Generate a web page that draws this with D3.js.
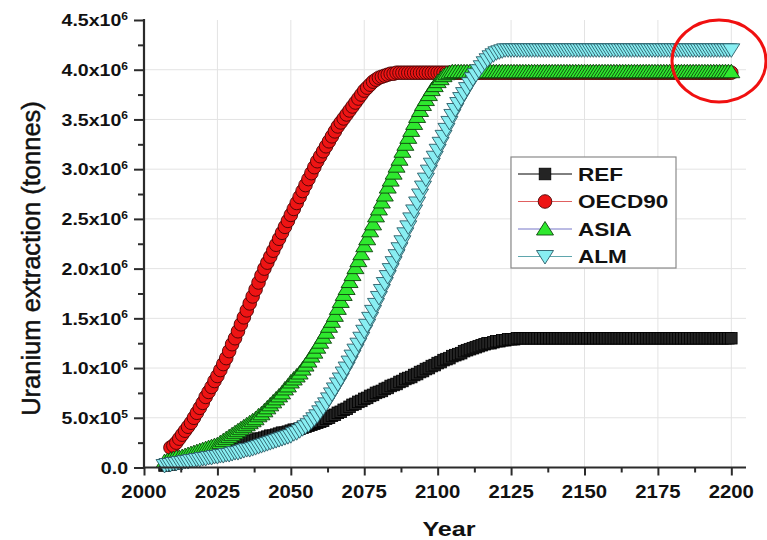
<!DOCTYPE html>
<html>
<head>
<meta charset="utf-8">
<script src="https://cdn.jsdelivr.net/npm/d3@7"></script>
<style>
  body { margin: 0; background: #fff; }
  svg { display: block; }
  text { font-family: "Liberation Sans", Arial, Helvetica, sans-serif; fill: #111; }
</style>
</head>
<body>
<svg id="chart" width="767" height="540"></svg>
<script>
// Uranium extraction by region, one value per year (millions of tonnes)
const FIRST_YEAR = 2007;

const refValues = [
  0.02,0.03,0.03,0.04,0.05,0.06,0.07,0.07,0.08,0.09,
  0.10,0.10,0.11,0.12,0.13,0.14,0.14,0.15,0.16,0.17,
  0.18,0.19,0.20,0.21,0.22,0.23,0.24,0.25,0.25,0.26,
  0.27,0.28,0.29,0.29,0.30,0.31,0.32,0.32,0.33,0.34,
  0.35,0.35,0.36,0.37,0.38,0.38,0.39,0.40,0.41,0.42,
  0.43,0.44,0.45,0.46,0.47,0.49,0.50,0.52,0.53,0.55,
  0.56,0.58,0.59,0.61,0.63,0.64,0.66,0.67,0.69,0.70,
  0.72,0.73,0.75,0.76,0.77,0.79,0.80,0.82,0.83,0.84,
  0.86,0.87,0.89,0.90,0.91,0.93,0.94,0.96,0.97,0.99,
  1.00,1.02,1.03,1.05,1.06,1.08,1.09,1.10,1.12,1.13,
  1.14,1.15,1.17,1.18,1.19,1.20,1.21,1.22,1.23,1.24,
  1.25,1.25,1.26,1.27,1.27,1.28,1.28,1.29,1.29,1.29,
  1.30,1.30,1.30,1.30,1.30,1.30,1.30,1.30,1.30,1.30,
  1.30,1.30,1.30,1.30,1.30,1.30,1.30,1.30,1.30,1.30,
  1.30,1.30,1.30,1.30,1.30,1.30,1.30,1.30,1.30,1.30,
  1.30,1.30,1.30,1.30,1.30,1.30,1.30,1.30,1.30,1.30,
  1.30,1.30,1.30,1.30,1.30,1.30,1.30,1.30,1.30,1.30,
  1.30,1.30,1.30,1.30,1.30,1.30,1.30,1.30,1.30,1.30,
  1.30,1.30,1.30,1.30,1.30,1.30,1.30,1.30,1.30,1.30,
  1.30,1.30,1.30,1.30
];

const oecd90Values = [
  null,null,0.20,0.22,0.25,0.29,0.33,0.37,0.41,0.45,
  0.50,0.55,0.60,0.65,0.71,0.76,0.81,0.87,0.92,0.98,
  1.04,1.10,1.17,1.24,1.30,1.37,1.44,1.51,1.58,1.65,
  1.72,1.79,1.86,1.93,2.00,2.06,2.12,2.18,2.24,2.30,
  2.36,2.42,2.48,2.54,2.60,2.66,2.72,2.78,2.84,2.90,
  2.96,3.02,3.08,3.13,3.18,3.23,3.28,3.33,3.38,3.43,
  3.47,3.51,3.55,3.59,3.63,3.67,3.71,3.75,3.79,3.82,
  3.85,3.88,3.90,3.92,3.93,3.94,3.95,3.96,3.96,3.97,
  3.97,3.97,3.97,3.97,3.97,3.97,3.97,3.97,3.97,3.97,
  3.97,3.97,3.97,3.97,3.97,3.97,3.97,3.97,3.97,3.97,
  3.97,3.97,3.97,3.97,3.97,3.97,3.97,3.97,3.97,3.97,
  3.97,3.97,3.97,3.97,3.97,3.97,3.97,3.97,3.97,3.97,
  3.97,3.97,3.97,3.97,3.97,3.97,3.97,3.97,3.97,3.97,
  3.97,3.97,3.97,3.97,3.97,3.97,3.97,3.97,3.97,3.97,
  3.97,3.97,3.97,3.97,3.97,3.97,3.97,3.97,3.97,3.97,
  3.97,3.97,3.97,3.97,3.97,3.97,3.97,3.97,3.97,3.97,
  3.97,3.97,3.97,3.97,3.97,3.97,3.97,3.97,3.97,3.97,
  3.97,3.97,3.97,3.97,3.97,3.97,3.97,3.97,3.97,3.97,
  3.97,3.97,3.97,3.97,3.97,3.97,3.97,3.97,3.97,3.97,
  3.97,3.97,3.97,3.97
];

const asiaValues = [
  0.06,0.07,0.08,0.09,0.10,0.10,0.11,0.12,0.13,0.14,
  0.15,0.16,0.17,0.18,0.19,0.20,0.21,0.22,0.23,0.25,
  0.27,0.29,0.31,0.33,0.35,0.37,0.39,0.41,0.43,0.45,
  0.47,0.49,0.52,0.54,0.57,0.60,0.63,0.66,0.69,0.72,
  0.75,0.79,0.82,0.86,0.89,0.92,0.95,0.99,1.03,1.07,
  1.12,1.16,1.21,1.26,1.31,1.36,1.42,1.47,1.53,1.60,
  1.67,1.74,1.80,1.87,1.94,2.01,2.08,2.15,2.23,2.30,
  2.38,2.45,2.53,2.60,2.67,2.74,2.82,2.89,2.96,3.03,
  3.10,3.18,3.25,3.32,3.39,3.46,3.53,3.59,3.65,3.70,
  3.75,3.80,3.84,3.88,3.91,3.94,3.96,3.97,3.98,3.98,
  3.98,3.98,3.98,3.98,3.98,3.98,3.98,3.98,3.98,3.98,
  3.98,3.98,3.98,3.98,3.98,3.98,3.98,3.98,3.98,3.98,
  3.98,3.98,3.98,3.98,3.98,3.98,3.98,3.98,3.98,3.98,
  3.98,3.98,3.98,3.98,3.98,3.98,3.98,3.98,3.98,3.98,
  3.98,3.98,3.98,3.98,3.98,3.98,3.98,3.98,3.98,3.98,
  3.98,3.98,3.98,3.98,3.98,3.98,3.98,3.98,3.98,3.98,
  3.98,3.98,3.98,3.98,3.98,3.98,3.98,3.98,3.98,3.98,
  3.98,3.98,3.98,3.98,3.98,3.98,3.98,3.98,3.98,3.98,
  3.98,3.98,3.98,3.98,3.98,3.98,3.98,3.98,3.98,3.98,
  3.98,3.98,3.98,3.98
];

const almValues = [
  0.02,0.03,0.03,0.04,0.04,0.05,0.05,0.06,0.06,0.07,
  0.07,0.08,0.08,0.09,0.09,0.10,0.10,0.11,0.11,0.12,
  0.12,0.13,0.13,0.14,0.15,0.15,0.16,0.17,0.18,0.18,
  0.19,0.20,0.21,0.22,0.23,0.24,0.25,0.26,0.27,0.28,
  0.29,0.30,0.31,0.32,0.34,0.35,0.37,0.39,0.41,0.43,
  0.46,0.49,0.52,0.56,0.60,0.64,0.69,0.74,0.79,0.84,
  0.89,0.95,1.00,1.06,1.12,1.18,1.24,1.30,1.37,1.43,
  1.50,1.57,1.64,1.71,1.78,1.85,1.92,1.99,2.06,2.13,
  2.20,2.27,2.35,2.42,2.50,2.58,2.66,2.74,2.82,2.90,
  2.98,3.05,3.12,3.19,3.26,3.33,3.40,3.47,3.54,3.60,
  3.66,3.71,3.76,3.81,3.86,3.91,3.95,3.99,4.03,4.07,
  4.10,4.13,4.15,4.17,4.18,4.19,4.20,4.20,4.20,4.20,
  4.20,4.20,4.20,4.20,4.20,4.20,4.20,4.20,4.20,4.20,
  4.20,4.20,4.20,4.20,4.20,4.20,4.20,4.20,4.20,4.20,
  4.20,4.20,4.20,4.20,4.20,4.20,4.20,4.20,4.20,4.20,
  4.20,4.20,4.20,4.20,4.20,4.20,4.20,4.20,4.20,4.20,
  4.20,4.20,4.20,4.20,4.20,4.20,4.20,4.20,4.20,4.20,
  4.20,4.20,4.20,4.20,4.20,4.20,4.20,4.20,4.20,4.20,
  4.20,4.20,4.20,4.20,4.20,4.20,4.20,4.20,4.20,4.20,
  4.20,4.20,4.20,4.20
];

const seriesNames = ["REF", "OECD90", "ASIA", "ALM"];

const xTickValues = [2000, 2025, 2050, 2075, 2100, 2125, 2150, 2175, 2200];
const yTickValues = [0, 0.5, 1.0, 1.5, 2.0, 2.5, 3.0, 3.5, 4.0, 4.5];
const yTickMantissas = ["0.0", "5.0x10", "1.0x10", "1.5x10", "2.0x10", "2.5x10", "3.0x10", "3.5x10", "4.0x10", "4.5x10"];
const yTickExponents = ["", "5", "6", "6", "6", "6", "6", "6", "6", "6"];

// ---- drawing ----
const svg = d3.select("#chart");

const x = d3.scaleLinear().domain([2000, 2205]).range([144, 746]);
const y = d3.scaleLinear().domain([0, 4.5]).range([467.5, 20]);

const styles = {
  REF:    { fill: "#242424", stroke: "#000000", line: "#000000", shape: "square" },
  OECD90: { fill: "#ee1414", stroke: "#4a0505", line: "#e06060", shape: "circle" },
  ASIA:   { fill: "#2ee82e", stroke: "#0d430d", line: "#7777c8", shape: "up" },
  ALM:    { fill: "#88eef2", stroke: "#2a5c68", line: "#5fa6ad", shape: "down" }
};

const seriesData = [refValues, oecd90Values, asiaValues, almValues].map((vals, i) => ({
  name: seriesNames[i],
  points: vals.map((v, j) => ({ year: FIRST_YEAR + j, value: v })).filter(d => d.value !== null)
}));

// grid
const grid = svg.append("g");
grid.selectAll("line.v").data(xTickValues.slice(1)).join("line")
  .attr("x1", d => x(d)).attr("x2", d => x(d))
  .attr("y1", y(4.5)).attr("y2", y(0))
  .attr("stroke", "#e3e3e3").attr("stroke-width", 1);
grid.selectAll("line.h").data(yTickValues.slice(1, -1)).join("line")
  .attr("x1", x(2000)).attr("x2", x(2205))
  .attr("y1", d => y(d)).attr("y2", d => y(d))
  .attr("stroke", "#e3e3e3").attr("stroke-width", 1);

// marker shapes
function markerPath(shape) {
  switch (shape) {
    case "up":   return "M0,-7.5L8.5,6L-8.5,6Z";
    case "down": return "M0,7.5L8.5,-6L-8.5,-6Z";
    default: return null;
  }
}

function drawMarker(g, shape, st) {
  if (shape === "square") {
    return g.append("rect").attr("x", -5.8).attr("y", -5.8).attr("width", 11.6).attr("height", 11.6)
      .attr("fill", st.fill).attr("stroke", st.stroke).attr("stroke-width", 0.8);
  }
  if (shape === "circle") {
    return g.append("circle").attr("r", 6.8)
      .attr("fill", st.fill).attr("stroke", st.stroke).attr("stroke-width", 0.9);
  }
  return g.append("path").attr("d", markerPath(shape))
    .attr("fill", st.fill).attr("stroke", st.stroke).attr("stroke-width", 0.9)
    .attr("stroke-linejoin", "miter");
}

// series
const line = d3.line().x(d => x(d.year)).y(d => y(d.value));
seriesData.forEach(s => {
  const st = styles[s.name];
  const g = svg.append("g");
  g.append("path").datum(s.points).attr("d", line)
    .attr("fill", "none").attr("stroke", st.line).attr("stroke-width", 1);
  g.selectAll("g.pt").data(s.points).join("g")
    .attr("transform", d => `translate(${x(d.year)},${y(d.value)})`)
    .each(function () { drawMarker(d3.select(this), st.shape, st); });
});

// axes
const axisColor = "#2b2b2b";
const xAxis = d3.axisBottom(x).tickValues(xTickValues).tickSize(8).tickFormat("");
const xMinor = d3.axisBottom(x).tickValues(xTickValues.map(d => d + 12.5).filter(d => d < 2205)).tickSize(5).tickFormat("");
const yAxis = d3.axisLeft(y).tickValues(yTickValues).tickSize(10).tickFormat("");
const yMinor = d3.axisLeft(y).tickValues(yTickValues.slice(0, -1).map(d => d + 0.25)).tickSize(6).tickFormat("");

function styleAxis(g) {
  g.select(".domain").remove();
  g.selectAll(".tick line").attr("stroke", axisColor).attr("stroke-width", 2);
}
svg.append("g").attr("transform", `translate(0,${y(0)})`).call(xAxis).call(styleAxis);
svg.append("g").attr("transform", `translate(0,${y(0)})`).call(xMinor).call(styleAxis);
svg.append("g").attr("transform", `translate(${x(2000)},0)`).call(yAxis).call(styleAxis);
svg.append("g").attr("transform", `translate(${x(2000)},0)`).call(yMinor).call(styleAxis);

svg.append("line").attr("x1", x(2000)).attr("x2", x(2205)).attr("y1", y(0)).attr("y2", y(0))
  .attr("stroke", axisColor).attr("stroke-width", 2.2);
svg.append("line").attr("x1", x(2000)).attr("x2", x(2000)).attr("y1", y(4.5) - 1).attr("y2", y(0) + 1)
  .attr("stroke", axisColor).attr("stroke-width", 2.2);

// tick labels
svg.append("g").selectAll("text").data(xTickValues).join("text")
  .attr("transform", d => `translate(${x(d)},498) scale(1.1,1)`)
  .attr("text-anchor", "middle")
  .attr("font-size", 18.5).attr("font-weight", "bold")
  .text(d => d);

const yLabels = svg.append("g").selectAll("text").data(yTickValues).join("text")
  .attr("transform", d => `translate(128,${y(d) + 6.3}) scale(1.15,1)`)
  .attr("text-anchor", "end")
  .attr("font-size", 17).attr("font-weight", "bold");
yLabels.append("tspan").text((d, i) => yTickMantissas[i]);
yLabels.append("tspan")
  .attr("dy", -6.5).attr("font-size", 10.5)
  .text((d, i) => yTickExponents[i]);

// axis titles
svg.append("text")
  .attr("transform", "translate(449,536) scale(1.2,1)")
  .attr("text-anchor", "middle")
  .attr("font-size", 21).attr("font-weight", "bold")
  .text("Year");

svg.append("text")
  .attr("transform", "translate(40,258.5) rotate(-90)")
  .attr("text-anchor", "middle")
  .attr("font-size", 25.5)
  .attr("stroke", "#111").attr("stroke-width", 0.5)
  .text("Uranium extraction (tonnes)");

// legend
const legend = svg.append("g");
legend.append("rect").attr("x", 511).attr("y", 157).attr("width", 165).attr("height", 111)
  .attr("fill", "#fff").attr("stroke", "#8a8a8a").attr("stroke-width", 1.2);
const legendRowY = [174, 201.5, 229, 256.5];
seriesNames.forEach((name, i) => {
  const st = styles[name];
  const row = legend.append("g").attr("transform", `translate(0,${legendRowY[i]})`);
  row.append("line").attr("x1", 518).attr("x2", 572).attr("y1", 0).attr("y2", 0)
    .attr("stroke", st.line).attr("stroke-width", 1);
  drawMarker(row.append("g").attr("transform", "translate(545,0)"), st.shape, st);
  row.append("text")
    .attr("transform", "translate(578,6.8) scale(1.22,1)")
    .attr("font-size", 18.5).attr("font-weight", "bold")
    .text(name);
});

// highlight ring around the end of the ALM / ASIA curves
svg.append("ellipse")
  .attr("cx", 719).attr("cy", 61).attr("rx", 47).attr("ry", 41)
  .attr("fill", "none").attr("stroke", "#f01010").attr("stroke-width", 3);
</script>
</body>
</html>
